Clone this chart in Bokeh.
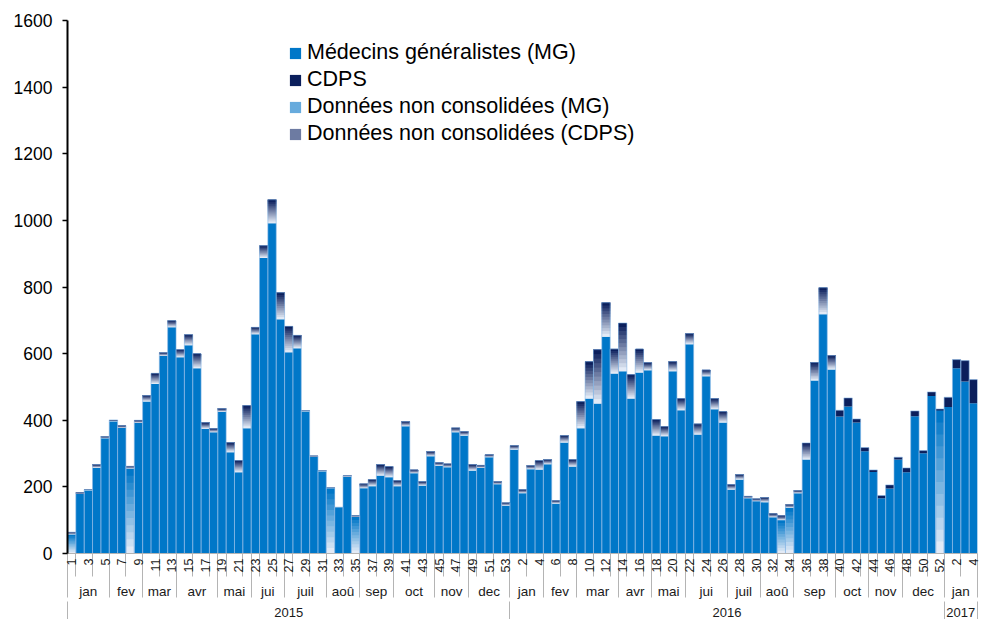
import math
import numpy as np
from bokeh.plotting import figure
from bokeh.models import Range1d, LinearAxis, FixedTicker, Legend, LegendItem
from bokeh.embed import file_html
from bokeh.resources import INLINE

FONT = "Liberation Sans"

# ---------------- categories ----------------
years = ["2015", "2016", "2017"]
months_2015 = ["jan", "fev", "mar", "avr", "mai", "jui", "juil", "aoû", "sep", "oct", "nov", "dec"]
months_2016 = ["jan", "fev", "mar", "avr", "mai", "jui", "juil", "aoû", "sep", "oct", "nov", "dec"]
months_2017 = ["jan"]
weeks_per_month_2015 = [5, 4, 4, 5, 4, 4, 5, 4, 4, 5, 4, 5]
weeks_per_month_2016 = [4, 4, 5, 4, 4, 5, 4, 4, 5, 4, 4, 5]
weeks_per_month_2017 = [4]

# ---------------- values (per week) ----------------
mg_2015 = [0, 179, 190, 257, 346, 397, 377, 0, 392, 456,
           509, 593, 679, 589, 625, 556, 374, 364, 425, 304,
           244, 376, 658, 887, 991, 703, 604, 616, 427, 291,
           247, 0, 139, 231, 0, 196, 202, 234, 229, 202,
           382, 241, 204, 292, 263, 259, 364, 354, 249, 257,
           289, 208, 144]
nc_mg_2015 = [57, 0, 0, 0, 0, 0, 0, 255, 0, 0,
              0, 0, 0, 0, 0, 0, 0, 0, 0, 0,
              0, 0, 0, 0, 0, 0, 0, 0, 0, 0,
              0, 196, 0, 0, 110, 0, 0, 0, 0, 0,
              0, 0, 0, 0, 0, 0, 0, 0, 0, 0,
              0, 0, 0]
cdps_2015 = [0] * 53
nc_cdps_2015 = [7, 3, 2, 10, 5, 4, 7, 7, 8, 18,
                32, 10, 20, 23, 32, 44, 19, 11, 10, 29,
                35, 68, 21, 37, 71, 80, 78, 39, 2, 2,
                2, 2, 0, 3, 4, 13, 20, 33, 32, 17,
                14, 10, 12, 14, 10, 10, 13, 12, 18, 8,
                8, 8, 8]

mg_2016 = [312, 181, 253, 252, 268, 150, 333, 261, 376, 465,
           450, 651, 540, 547, 465, 543, 550, 354, 352, 547,
           430, 628, 357, 532, 433, 393, 192, 222, 166, 157,
           154, 109, 0, 0, 181, 282, 519, 718, 552, 411,
           441, 393, 307, 245, 166, 195, 282, 244, 412, 301,
           473, 0]
nc_mg_2016 = [0, 0, 0, 0, 0, 0, 0, 0, 0, 0,
              0, 0, 0, 0, 0, 0, 0, 0, 0, 0,
              0, 0, 0, 0, 0, 0, 0, 0, 0, 0,
              0, 0, 100, 137, 0, 0, 0, 0, 0, 0,
              0, 0, 0, 0, 0, 0, 0, 0, 0, 0,
              0, 429]
cdps_2016 = [0, 0, 0, 0, 0, 0, 0, 0, 0, 0,
             0, 0, 0, 0, 0, 0, 0, 0, 0, 0,
             0, 0, 0, 0, 0, 0, 0, 0, 0, 0,
             0, 0, 0, 0, 0, 0, 0, 0, 0, 19,
             26, 11, 11, 6, 8, 11, 7, 13, 16, 8,
             12, 5]
nc_cdps_2016 = [12, 11, 11, 27, 14, 9, 21, 21, 80, 111,
                162, 102, 74, 145, 72, 71, 23, 48, 29, 29,
                35, 32, 32, 19, 32, 33, 15, 15, 6, 7,
                14, 10, 13, 9, 8, 50, 54, 80, 42, 0,
                0, 0, 0, 0, 0, 0, 0, 0, 0, 0,
                0, 0]

mg_2017 = [440, 556, 516, 451]
nc_mg_2017 = [0, 0, 0, 0]
cdps_2017 = [29, 26, 63, 71]
nc_cdps_2017 = [0, 0, 0, 0]

y_ticks = [0, 200, 400, 600, 800, 1000, 1200, 1400, 1600]

series_labels = ["Médecins généralistes (MG)", "CDPS",
                 "Données non consolidées (MG)", "Données non consolidées (CDPS)"]

# ---------------- styles ----------------
BLUE = "#0077c8"
NAVY = "#0b1f5c"
PALE = "#e2eaf6"
EDGE = "#86b6e4"
SEP = "#b4b4b4"
N_SLICES = 12

# ---------------- structure ----------------
week_numbers, month_spans, year_spans = [], [], []
pos = 0
for yr, months, wpm in [(years[0], months_2015, weeks_per_month_2015),
                        (years[1], months_2016, weeks_per_month_2016),
                        (years[2], months_2017, weeks_per_month_2017)]:
    ystart = pos
    wk = 1
    for m, cnt in zip(months, wpm):
        month_spans.append((m, pos, pos + cnt))
        for _ in range(cnt):
            week_numbers.append(wk)
            wk += 1
        pos += cnt
    year_spans.append((yr, ystart, pos))
n = pos

mg = np.array(mg_2015 + mg_2016 + mg_2017, dtype=float)
nc_mg = np.array(nc_mg_2015 + nc_mg_2016 + nc_mg_2017, dtype=float)
cdps = np.array(cdps_2015 + cdps_2016 + cdps_2017, dtype=float)
nc_cdps = np.array(nc_cdps_2015 + nc_cdps_2016 + nc_cdps_2017, dtype=float)
assert len(mg) == len(nc_mg) == len(cdps) == len(nc_cdps) == n

x = np.arange(n) + 0.5
ncmg_base = mg
cdps_base = ncmg_base + nc_mg
nccdps_base = cdps_base + cdps
total = nccdps_base + nc_cdps


def mix(c1, c2, t):
    a = [int(c1[i:i + 2], 16) for i in (1, 3, 5)]
    b = [int(c2[i:i + 2], 16) for i in (1, 3, 5)]
    return "#%02x%02x%02x" % tuple(round(a[j] + (b[j] - a[j]) * t) for j in range(3))


p = figure(width=981, height=619, x_range=Range1d(0, n), y_range=Range1d(0, 1600),
           output_backend="svg", toolbar_location=None,
           x_axis_location=None, y_axis_location=None,
           min_border_left=67, min_border_right=4, min_border_top=20, min_border_bottom=66)
p.xgrid.visible = False
p.ygrid.visible = False
p.outline_line_color = None
p.background_fill_color = "white"
p.border_fill_color = "white"

r_mg = p.vbar(x=x, width=1, bottom=0, top=mg, fill_color=BLUE, line_color=None)


def gradient(base, seg, dark):
    rs = []
    for k in range(N_SLICES):
        t = k / (N_SLICES - 1)
        r = p.vbar(x=x, width=1, bottom=base + seg * k / N_SLICES, top=base + seg,
                   fill_color=mix(PALE, dark, t), line_color=None)
        rs.append(r)
    return rs


r_ncmg = gradient(ncmg_base, nc_mg, BLUE)
r_cdps = p.vbar(x=x, width=1, bottom=cdps_base, top=cdps_base + cdps, fill_color=NAVY, line_color=None)
r_nccdps = gradient(nccdps_base, nc_cdps, NAVY)
p.vbar(x=x, width=1, bottom=0, top=total, fill_color=None, line_color=EDGE, line_width=0.6)

# ---------------- y axis ----------------
yaxis = LinearAxis(ticker=FixedTicker(ticks=y_ticks, minor_ticks=[]),
                   axis_line_color="black", axis_line_width=2,
                   major_tick_line_color="black", major_tick_line_width=1.3,
                   major_tick_out=5, major_tick_in=0,
                   minor_tick_line_color=None, minor_tick_out=0, minor_tick_in=0,
                   major_label_standoff=10,
                   major_label_text_font=FONT, major_label_text_font_size="17.5px",
                   major_label_text_color="black")
p.add_layout(yaxis, "left")

# ---------------- x axes: weeks, months, years ----------------
# the tick extent of an axis includes its minor ticks, so the label standoff
# is made negative to bring labels back up next to the axis line
month_bounds = sorted({s for _, s, _ in month_spans} | {e for _, _, e in month_spans})
week_centers = [i + 0.5 for i in range(0, n, 2)]
week_over = {i + 0.5: str(week_numbers[i]) for i in range(0, n, 2)}
week_minor = sorted(set(range(1, n, 2)) | set(month_bounds))

W_TICK = 23
wax = LinearAxis(ticker=FixedTicker(ticks=week_centers, minor_ticks=week_minor),
                 major_label_overrides=week_over,
                 major_label_orientation=math.pi / 2,
                 axis_line_color=SEP, axis_line_width=1,
                 major_tick_line_color=None, major_tick_out=0, major_tick_in=0,
                 minor_tick_line_color=SEP, minor_tick_in=0, minor_tick_out=W_TICK,
                 major_label_standoff=5 - W_TICK,
                 major_label_text_font=FONT, major_label_text_font_size="12.5px",
                 major_label_text_color="#1a1a1a")
p.add_layout(wax, "below")

M_TICK = 22
month_centers = [(s + e) / 2 for _, s, e in month_spans]
month_over = {(s + e) / 2: m for m, s, e in month_spans}
max_ = LinearAxis(ticker=FixedTicker(ticks=month_centers, minor_ticks=month_bounds),
                  major_label_overrides=month_over,
                  axis_line_color=None,
                  major_tick_line_color=None, major_tick_out=0, major_tick_in=0,
                  minor_tick_line_color=SEP, minor_tick_in=0, minor_tick_out=M_TICK,
                  major_label_standoff=8 - M_TICK,
                  major_label_text_font=FONT, major_label_text_font_size="13.5px",
                  major_label_text_color="#1a1a1a")
p.add_layout(max_, "below")

Y_TICK = 25
year_centers = [(s + e) / 2 for _, s, e in year_spans]
year_over = {(s + e) / 2: y for y, s, e in year_spans}
year_bounds = sorted({s for _, s, _ in year_spans} | {e for _, _, e in year_spans})
yax = LinearAxis(ticker=FixedTicker(ticks=year_centers, minor_ticks=year_bounds),
                 major_label_overrides=year_over,
                 axis_line_color=None,
                 major_tick_line_color=None, major_tick_out=0, major_tick_in=0,
                 minor_tick_line_color=SEP, minor_tick_in=0, minor_tick_out=Y_TICK,
                 major_label_standoff=6 - Y_TICK,
                 major_label_text_font=FONT, major_label_text_font_size="13px",
                 major_label_text_color="#1a1a1a")
p.add_layout(yax, "below")

# ---------------- legend ----------------
legend = Legend(items=[LegendItem(label=series_labels[0], renderers=[r_mg]),
                       LegendItem(label=series_labels[1], renderers=[r_cdps]),
                       LegendItem(label=series_labels[2], renderers=[r_ncmg[N_SLICES // 2]]),
                       LegendItem(label=series_labels[3], renderers=[r_nccdps[N_SLICES // 2]])],
                location=(221, 406), orientation="vertical",
                border_line_color=None, background_fill_alpha=0,
                padding=0, margin=0, spacing=0,
                label_height=27, glyph_height=14, glyph_width=14, label_standoff=5,
                label_text_font=FONT, label_text_font_size="21.5px", label_text_color="black")
p.add_layout(legend)

open("out.html", "w").write(file_html(p, INLINE))
